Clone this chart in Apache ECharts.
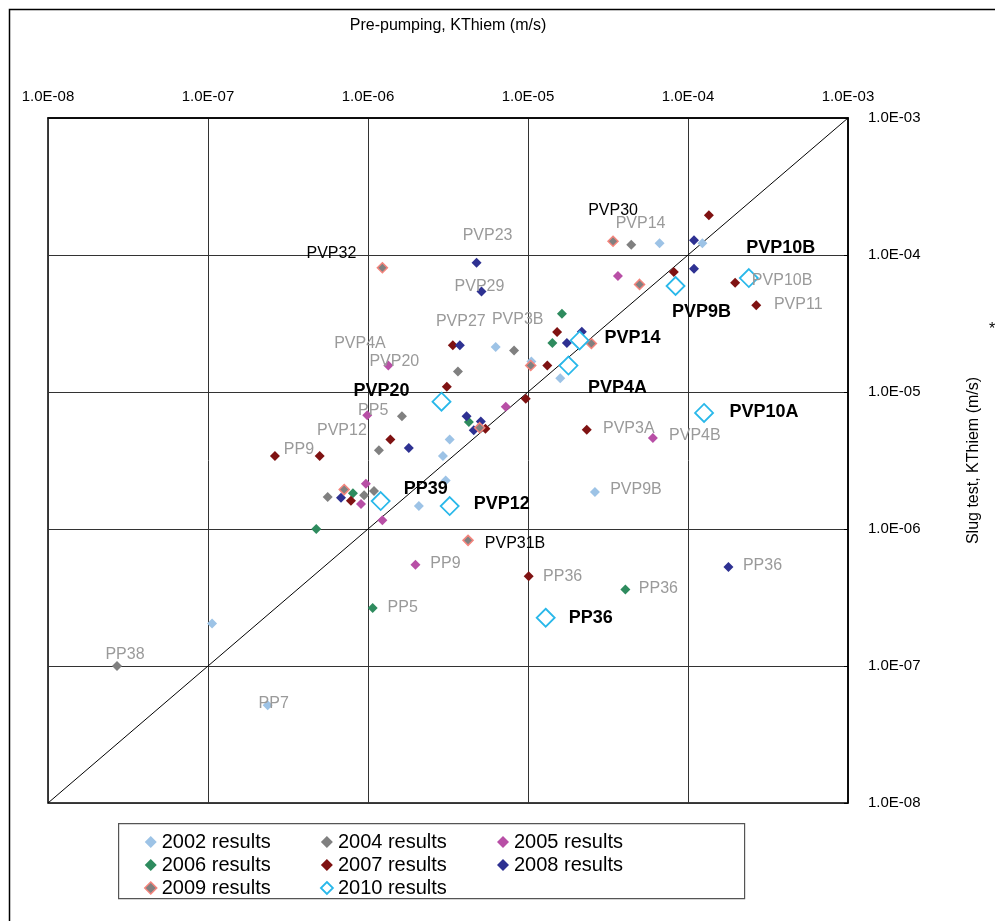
<!DOCTYPE html>
<html><head><meta charset="utf-8">
<script src="https://cdn.jsdelivr.net/npm/echarts@6/dist/echarts.min.js"></script>
<style>html,body{margin:0;padding:0;background:#fff}#c{width:995px;height:921px}</style>
</head><body><div id="c"></div>
<script>
// Tick labels (by decade exponent -8 .. -3)
const tickExponents = [-8, -7, -6, -5, -4, -3];
const tickLabels = ['1.0E-08', '1.0E-07', '1.0E-06', '1.0E-05', '1.0E-04', '1.0E-03'];

const seriesNames = ['2002 results', '2004 results', '2005 results', '2006 results', '2007 results', '2008 results', '2009 results', '2010 results'];

// [Pre-pumping KThiem, Slug test KThiem, well label]
const s2002 = [
  [6.64e-5, 1.22e-4, 'PVP14'], [1.23e-4, 1.22e-4, ''], [6.28e-6, 2.13e-5, 'PVP3B'],
  [1.05e-5, 1.67e-5, ''], [1.59e-5, 1.26e-5, ''], [3.24e-6, 4.51e-6, ''],
  [2.94e-6, 3.41e-6, ''], [3.06e-6, 2.26e-6, ''], [2.08e-6, 1.47e-6, ''],
  [2.62e-5, 1.86e-6, 'PVP9B'], [1.06e-7, 2.04e-7, ''], [2.36e-7, 5.16e-8, 'PP7']
];
const s2004 = [
  [4.42e-5, 1.19e-4, ''], [8.18e-6, 2.01e-5, ''], [3.65e-6, 1.41e-5, 'PVP4A'],
  [1.63e-6, 6.64e-6, ''], [1.17e-6, 3.75e-6, 'PVP12'], [1.09e-6, 1.89e-6, ''],
  [9.46e-7, 1.76e-6, ''], [5.60e-7, 1.71e-6, ''], [2.70e-8, 1.00e-7, 'PP38']
];
const s2005 = [
  [3.65e-5, 7.03e-5, ''], [1.34e-6, 1.56e-5, 'PVP20'], [7.26e-6, 7.81e-6, ''],
  [9.89e-7, 6.77e-6, 'PP5'], [6.03e-5, 4.61e-6, 'PVP4B'], [9.70e-7, 2.14e-6, ''],
  [9.04e-7, 1.52e-6, ''], [1.23e-6, 1.16e-6, ''], [1.98e-6, 5.48e-7, 'PP9']
];
const s2006 = [
  [1.63e-5, 3.73e-5, ''], [1.42e-5, 2.28e-5, ''], [4.27e-6, 6.04e-6, ''],
  [8.05e-7, 1.82e-6, ''], [4.75e-7, 1.00e-6, ''], [1.07e-6, 2.65e-7, 'PP5'],
  [4.06e-5, 3.61e-7, 'PP36']
];
const s2007 = [
  [1.35e-4, 1.95e-4, ''], [8.15e-5, 7.52e-5, ''], [1.97e-4, 6.28e-5, 'PVP10B'],
  [2.67e-4, 4.29e-5, 'PVP11'], [1.52e-5, 2.74e-5, ''], [3.39e-6, 2.19e-5, 'PVP27'],
  [1.32e-5, 1.56e-5, ''], [3.11e-6, 1.09e-5, ''], [9.68e-6, 8.93e-6, ''],
  [5.42e-6, 5.40e-6, ''], [2.33e-5, 5.31e-6, 'PVP3A'], [1.38e-6, 4.51e-6, ''],
  [2.62e-7, 3.41e-6, 'PP9'], [4.99e-7, 3.41e-6, ''], [7.82e-7, 1.61e-6, ''],
  [1.01e-5, 4.52e-7, 'PP36']
];
const s2008 = [
  [1.09e-4, 1.28e-4, ''], [1.09e-4, 7.94e-5, ''], [4.77e-6, 8.79e-5, 'PVP23'],
  [5.12e-6, 5.42e-5, 'PVP29'], [2.17e-5, 2.75e-5, ''], [1.75e-5, 2.28e-5, ''],
  [3.75e-6, 2.19e-5, ''], [4.13e-6, 6.66e-6, ''], [5.07e-6, 6.10e-6, ''],
  [4.58e-6, 5.25e-6, ''], [1.80e-6, 3.90e-6, ''], [6.78e-7, 1.69e-6, ''],
  [1.79e-4, 5.28e-7, 'PP36']
];
const s2009 = [
  [3.40e-5, 1.26e-4, 'PVP30'], [1.23e-6, 8.07e-5, 'PVP32'], [4.98e-5, 6.10e-5, ''],
  [2.49e-5, 2.26e-5, ''], [1.04e-5, 1.56e-5, ''], [4.99e-6, 5.49e-6, ''],
  [7.10e-7, 1.94e-6, ''], [4.22e-6, 8.26e-7, 'PVP31B']
];
const s2010 = [
  [2.40e-4, 6.79e-5, 'PVP10B'], [8.36e-5, 5.94e-5, 'PVP9B'], [2.10e-5, 2.38e-5, 'PVP14'],
  [1.79e-5, 1.56e-5, 'PVP4A'], [2.88e-6, 8.50e-6, 'PVP20'], [1.26e-4, 7.03e-6, 'PVP10A'],
  [1.20e-6, 1.60e-6, 'PP39'], [3.24e-6, 1.47e-6, 'PVP12'], [1.29e-5, 2.25e-7, 'PP36']
];
const diagonal = [[1e-8, 1e-8], [1e-3, 1e-3]];

// label placement (pixel offsets from marker) and style kind
const labelPlace = {
  '2002|PVP14': [-19, -20, 'g'], '2002|PVP3B': [22, -27, 'g'], '2002|PVP9B': [41, -2, 'g'], '2002|PP7': [6, -2, 'g'],
  '2004|PVP4A': [-98, -28, 'g'], '2004|PVP12': [-37, -20, 'g'], '2004|PP38': [8, -11, 'g'],
  '2005|PVP20': [6, -4, 'g'], '2005|PP5': [6, -5, 'g'], '2005|PVP4B': [42, -2, 'g'], '2005|PP9': [30, -1, 'g'],
  '2006|PP5': [30, 0, 'g'], '2006|PP36': [33, -1, 'g'],
  '2007|PVP10B': [47, -2, 'g'], '2007|PVP11': [42, -1, 'g'], '2007|PVP27': [8, -24, 'g'], '2007|PVP3A': [42, -1, 'g'],
  '2007|PP9': [24, -6, 'g'], '2007|PP36': [34, 0, 'g'],
  '2008|PVP23': [11, -27, 'g'], '2008|PVP29': [-2, -5, 'g'], '2008|PP36': [34, -1, 'g'],
  '2009|PVP30': [0, -31, 'k'], '2009|PVP32': [-51, -14, 'k'], '2009|PVP31B': [47, 3, 'k'],
  '2010|PVP10B': [32, -30, 'b'], '2010|PVP9B': [26, 26, 'b'], '2010|PVP14': [53, -2, 'b'], '2010|PVP4A': [49, 22, 'b'],
  '2010|PVP20': [-60, -11, 'b'], '2010|PVP10A': [60, -1, 'b'], '2010|PP39': [45, -12, 'b'], '2010|PVP12': [52, -2, 'b'],
  '2010|PP36': [45, 0, 'b']
};

const styles = {
  '2002': { color: '#9DC3E6', size: 10 },
  '2004': { color: '#808080', size: 10 },
  '2005': { color: '#B84FA6', size: 10 },
  '2006': { color: '#2E8B5E', size: 10 },
  '2007': { color: '#7F1212', size: 10 },
  '2008': { color: '#2E3192', size: 10 },
  '2009': { color: '#808080', border: '#F4847C', bw: 1.5, size: 10 },
  '2010': { color: '#ffffff', border: '#29B8EA', bw: 1.8, size: 18, open: true }
};
const labelFonts = {
  g: { color: '#9a9a9a', fontSize: 16, fontWeight: 'normal' },
  k: { color: '#000000', fontSize: 16, fontWeight: 'normal' },
  b: { color: '#000000', fontSize: 18, fontWeight: 'bold' }
};
const font = 'Liberation Sans, Arial, sans-serif';

function buildSeries(year, arr) {
  const st = styles[year];
  return {
    name: year + ' results',
    type: 'scatter',
    symbol: 'diamond',
    symbolSize: st.size,
    z: 3,
    itemStyle: {
      color: st.color,
      borderColor: st.border || st.color,
      borderWidth: st.bw || 0,
      opacity: 1
    },
    data: arr.map(d => {
      const item = { value: [d[0], d[1]], name: d[2] };
      const p = labelPlace[year + '|' + d[2]];
      if (d[2] && p) {
        const f = labelFonts[p[2]];
        item.label = {
          show: true, formatter: d[2], position: 'inside', offset: [p[0], p[1]],
          align: 'center', verticalAlign: 'middle',
          color: f.color, fontSize: f.fontSize, fontWeight: f.fontWeight, fontFamily: font
        };
      }
      return item;
    }),
    emphasis: { disabled: true },
    animation: false
  };
}

function tickText(v) {
  const e = Math.round(Math.log10(v));
  const i = tickExponents.indexOf(e);
  return i >= 0 ? tickLabels[i] : '';
}

const series = [
  buildSeries('2002', s2002), buildSeries('2004', s2004), buildSeries('2005', s2005),
  buildSeries('2006', s2006), buildSeries('2007', s2007), buildSeries('2008', s2008),
  buildSeries('2009', s2009), buildSeries('2010', s2010),
  {
    type: 'line', data: diagonal, symbol: 'none', silent: true, z: 2,
    lineStyle: { color: '#000', width: 1 }, animation: false
  }
];

function legendData(names) {
  return names.map(n => {
    const y = n.slice(0, 4);
    const st = styles[y];
    return {
      name: n, icon: 'diamond',
      itemStyle: { color: st.open ? '#fff' : st.color, borderColor: st.border || st.color, borderWidth: st.bw || 0 }
    };
  });
}
const legendBase = {
  orient: 'vertical', itemWidth: 12, itemHeight: 12, itemGap: 3, selectedMode: false,
  textStyle: { fontSize: 20, color: '#000', fontFamily: font, padding: [0, 0, 0, 0], lineHeight: 20 }
};

const chart = echarts.init(document.getElementById('c'), null, { renderer: 'canvas' });
chart.setOption({
  backgroundColor: '#fff',
  animation: false,
  grid: { left: 48, top: 118, width: 800, height: 685, show: true, borderColor: '#000', borderWidth: 1.5, backgroundColor: 'transparent' },
  xAxis: {
    type: 'log', logBase: 10, min: 1e-8, max: 1e-3, position: 'top',
    name: 'Pre-pumping, KThiem (m/s)', nameLocation: 'middle', nameGap: 84,
    nameTextStyle: { fontSize: 16, color: '#000', fontFamily: font },
    axisLine: { show: true, lineStyle: { color: '#000', width: 1.5 } },
    axisTick: { show: false },
    axisLabel: { formatter: tickText, fontSize: 15, color: '#000', fontFamily: font, margin: 14 },
    splitLine: { show: true, lineStyle: { color: '#333', width: 1 } },
    minorSplitLine: { show: false }
  },
  yAxis: {
    type: 'log', logBase: 10, min: 1e-8, max: 1e-3, position: 'right',
    name: 'Slug test, KThiem (m/s)', nameLocation: 'middle', nameGap: 118, nameRotate: 90,
    nameTextStyle: { fontSize: 16, color: '#000', fontFamily: font },
    axisLine: { show: true, lineStyle: { color: '#000', width: 1.5 } },
    axisTick: { show: true, length: 4, inside: true, lineStyle: { color: '#000' } },
    axisLabel: { formatter: tickText, fontSize: 15, color: '#000', fontFamily: font, margin: 20 },
    splitLine: { show: true, lineStyle: { color: '#333', width: 1 } }
  },
  legend: [
    Object.assign({ left: 139, top: 827, data: legendData(['2002 results', '2006 results', '2009 results']) }, legendBase),
    Object.assign({ left: 315, top: 827, data: legendData(['2004 results', '2007 results', '2010 results']) }, legendBase),
    Object.assign({ left: 492, top: 827, data: legendData(['2005 results', '2008 results']) }, legendBase)
  ],
  graphic: [
    { type: 'rect', left: 7, top: 7, shape: { x: 0, y: 0, width: 1000, height: 930 }, style: { fill: 'none', stroke: '#000', lineWidth: 1.5 }, silent: true, z: -10 },
    { type: 'rect', left: 118, top: 823, shape: { x: 0, y: 0, width: 626, height: 75 }, style: { fill: '#fff', stroke: '#555', lineWidth: 1.2 }, silent: true, z: -5 },
    { type: 'text', left: 989, top: 322, style: { text: '*', fontSize: 16, fill: '#000', fontFamily: font }, silent: true }
  ],
  series: series
});
</script></body></html>
